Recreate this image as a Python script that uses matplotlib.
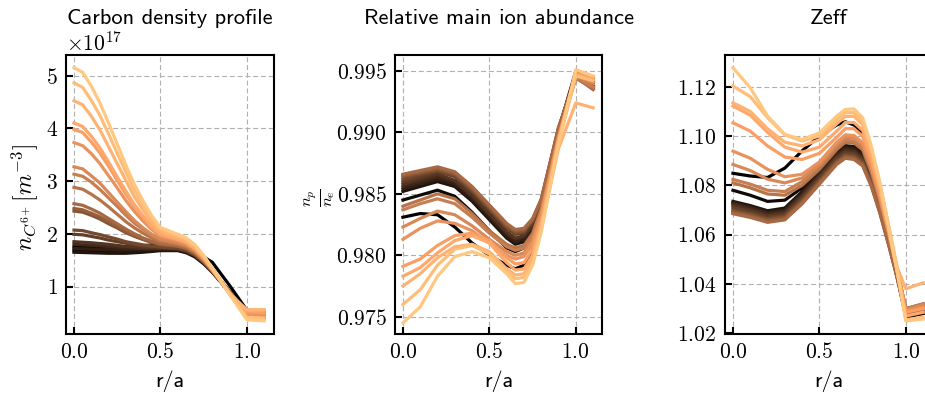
import matplotlib
matplotlib.use('Agg')
import matplotlib.pyplot as plt
import numpy as np

# LaTeX-like look: CM for math / tick labels, CM sans for text
plt.rcParams['font.family'] = ['cmss10', 'DejaVu Sans']
plt.rcParams['mathtext.fontset'] = 'cm'
plt.rcParams['axes.formatter.use_mathtext'] = True
plt.rcParams['axes.unicode_minus'] = False

# radial grids (r/a) where the profiles were read
r_carbon = [0.0, 0.05, 0.1, 0.15, 0.2, 0.25, 0.3, 0.35, 0.4, 0.45, 0.5,
            0.6, 0.65, 0.7, 0.75, 0.8, 0.9, 1.0, 1.1]
r_ion = [0.0, 0.1, 0.2, 0.3, 0.4, 0.5, 0.6, 0.65, 0.7, 0.75, 0.8, 0.9, 1.0, 1.1]
r_zeff = [0.0, 0.1, 0.2, 0.3, 0.4, 0.5, 0.6, 0.65, 0.7, 0.75, 0.8, 0.85,
          0.9, 0.95, 1.0, 1.1]

# carbon density, units of 1e17 m^-3 (one row per time slice, dark -> light)
n_carbon = [
    [1.75, 1.745, 1.74, 1.735, 1.73, 1.735, 1.74, 1.755, 1.77, 1.79, 1.81, 1.76, 1.71, 1.64, 1.56, 1.46, 1.02, 0.55, 0.52],
    [1.68, 1.675, 1.67, 1.665, 1.66, 1.66, 1.66, 1.67, 1.68, 1.69, 1.70, 1.69, 1.65, 1.57, 1.44, 1.28, 0.90, 0.45, 0.42],
    [1.65, 1.645, 1.64, 1.635, 1.63, 1.63, 1.63, 1.64, 1.65, 1.665, 1.68, 1.68, 1.64, 1.56, 1.43, 1.27, 0.89, 0.44, 0.41],
    [1.72, 1.715, 1.71, 1.705, 1.70, 1.695, 1.69, 1.695, 1.70, 1.705, 1.71, 1.70, 1.66, 1.58, 1.45, 1.28, 0.90, 0.46, 0.43],
    [1.80, 1.79, 1.78, 1.77, 1.76, 1.745, 1.73, 1.725, 1.72, 1.72, 1.72, 1.71, 1.67, 1.59, 1.46, 1.29, 0.90, 0.46, 0.43],
    [1.85, 1.84, 1.83, 1.815, 1.80, 1.78, 1.76, 1.75, 1.74, 1.735, 1.73, 1.72, 1.68, 1.59, 1.46, 1.29, 0.90, 0.47, 0.44],
    [1.99, 1.98, 1.95, 1.92, 1.88, 1.85, 1.82, 1.79, 1.77, 1.755, 1.75, 1.72, 1.68, 1.60, 1.46, 1.29, 0.90, 0.46, 0.43],
    [2.07, 2.06, 2.02, 1.985, 1.94, 1.90, 1.85, 1.82, 1.79, 1.77, 1.75, 1.73, 1.69, 1.60, 1.46, 1.29, 0.90, 0.47, 0.44],
    [2.43, 2.41, 2.35, 2.28, 2.19, 2.11, 2.02, 1.95, 1.89, 1.835, 1.80, 1.76, 1.72, 1.63, 1.48, 1.30, 0.90, 0.48, 0.45],
    [2.48, 2.455, 2.39, 2.32, 2.23, 2.14, 2.05, 1.97, 1.90, 1.845, 1.80, 1.77, 1.72, 1.63, 1.48, 1.30, 0.89, 0.49, 0.46],
    [2.57, 2.54, 2.47, 2.39, 2.29, 2.19, 2.09, 2.00, 1.92, 1.86, 1.81, 1.77, 1.73, 1.63, 1.48, 1.30, 0.89, 0.50, 0.47],
    [2.88, 2.845, 2.75, 2.64, 2.51, 2.37, 2.23, 2.11, 2.01, 1.92, 1.85, 1.80, 1.75, 1.65, 1.50, 1.30, 0.89, 0.52, 0.49],
    [3.13, 3.09, 2.98, 2.84, 2.68, 2.52, 2.35, 2.20, 2.08, 1.965, 1.88, 1.82, 1.77, 1.67, 1.51, 1.31, 0.88, 0.52, 0.48],
    [3.27, 3.23, 3.10, 2.96, 2.78, 2.60, 2.42, 2.25, 2.11, 1.99, 1.90, 1.83, 1.78, 1.67, 1.51, 1.31, 0.88, 0.50, 0.46],
    [3.73, 3.67, 3.52, 3.33, 3.10, 2.87, 2.63, 2.42, 2.24, 2.08, 1.95, 1.87, 1.81, 1.70, 1.53, 1.32, 0.88, 0.48, 0.44],
    [3.98, 3.92, 3.74, 3.53, 3.28, 3.01, 2.75, 2.51, 2.31, 2.12, 1.98, 1.89, 1.83, 1.72, 1.54, 1.33, 0.87, 0.52, 0.50],
    [4.10, 4.035, 3.85, 3.63, 3.36, 3.08, 2.81, 2.55, 2.34, 2.14, 2.00, 1.90, 1.84, 1.72, 1.55, 1.33, 0.87, 0.55, 0.55],
    [4.52, 4.445, 4.23, 3.97, 3.65, 3.33, 3.01, 2.70, 2.45, 2.22, 2.05, 1.94, 1.87, 1.75, 1.56, 1.34, 0.86, 0.56, 0.56],
    [4.86, 4.775, 4.53, 4.245, 3.89, 3.53, 3.17, 2.82, 2.54, 2.285, 2.09, 1.97, 1.90, 1.77, 1.58, 1.34, 0.86, 0.42, 0.40],
    [5.15, 5.06, 4.80, 4.48, 4.10, 3.70, 3.30, 2.93, 2.62, 2.34, 2.12, 1.99, 1.92, 1.79, 1.59, 1.35, 0.85, 0.37, 0.35],
]

# main ion fraction n_p / n_e
np_ne = [
    [0.9831, 0.9834, 0.9833, 0.9823, 0.9810, 0.9800, 0.9792, 0.9789, 0.9792, 0.9805, 0.9830, 0.9895, 0.9947, 0.9944],
    [0.9845, 0.9849, 0.9853, 0.9848, 0.9835, 0.9820, 0.9806, 0.9803, 0.9806, 0.9818, 0.9838, 0.9898, 0.9947, 0.9945],
    [0.9852, 0.9856, 0.9860, 0.9856, 0.9844, 0.9829, 0.9814, 0.9809, 0.9811, 0.9821, 0.9840, 0.9900, 0.9947, 0.9941],
    [0.9854, 0.9858, 0.9862, 0.9858, 0.9846, 0.9831, 0.9816, 0.9811, 0.9813, 0.9822, 0.9841, 0.9901, 0.9948, 0.9942],
    [0.9856, 0.9860, 0.9864, 0.9860, 0.9848, 0.9833, 0.9818, 0.9813, 0.9815, 0.9824, 0.9842, 0.9902, 0.9950, 0.9943],
    [0.9858, 0.9862, 0.9866, 0.9861, 0.9849, 0.9834, 0.9819, 0.9814, 0.9816, 0.9825, 0.9843, 0.9902, 0.9948, 0.9940],
    [0.9860, 0.9864, 0.9868, 0.9864, 0.9852, 0.9837, 0.9822, 0.9817, 0.9818, 0.9827, 0.9843, 0.9902, 0.9947, 0.9938],
    [0.9862, 0.9866, 0.9869, 0.9865, 0.9853, 0.9838, 0.9823, 0.9818, 0.9819, 0.9828, 0.9844, 0.9903, 0.9946, 0.9937],
    [0.9864, 0.9867, 0.9870, 0.9866, 0.9854, 0.9839, 0.9824, 0.9819, 0.9820, 0.9829, 0.9845, 0.9903, 0.9946, 0.9936],
    [0.9865, 0.9868, 0.9871, 0.9867, 0.9855, 0.9840, 0.9825, 0.9820, 0.9821, 0.9829, 0.9845, 0.9904, 0.9945, 0.9935],
    [0.9866, 0.9869, 0.9872, 0.9868, 0.9856, 0.9841, 0.9826, 0.9821, 0.9822, 0.9830, 0.9846, 0.9904, 0.9945, 0.9935],
    [0.9840, 0.9845, 0.9850, 0.9846, 0.9834, 0.9820, 0.9809, 0.9806, 0.9808, 0.9818, 0.9838, 0.9898, 0.9944, 0.9936],
    [0.9837, 0.9842, 0.9846, 0.9842, 0.9831, 0.9818, 0.9807, 0.9804, 0.9806, 0.9816, 0.9836, 0.9897, 0.9945, 0.9937],
    [0.9823, 0.9830, 0.9836, 0.9833, 0.9824, 0.9813, 0.9803, 0.9800, 0.9802, 0.9812, 0.9834, 0.9896, 0.9946, 0.9940],
    [0.9813, 0.9822, 0.9828, 0.9826, 0.9820, 0.9810, 0.9800, 0.9797, 0.9799, 0.9810, 0.9833, 0.9896, 0.9948, 0.9945],
    [0.9791, 0.9797, 0.9808, 0.9816, 0.9818, 0.9812, 0.9798, 0.9793, 0.9794, 0.9805, 0.9828, 0.9894, 0.9948, 0.9944],
    [0.9783, 0.9790, 0.9802, 0.9812, 0.9816, 0.9810, 0.9794, 0.9788, 0.9789, 0.9800, 0.9826, 0.9893, 0.9947, 0.9943],
    [0.9775, 0.9785, 0.9798, 0.9807, 0.9809, 0.9803, 0.9789, 0.9784, 0.9785, 0.9796, 0.9823, 0.9887, 0.9924, 0.9920],
    [0.9760, 0.9772, 0.9792, 0.9805, 0.9808, 0.9801, 0.9786, 0.9781, 0.9782, 0.9793, 0.9822, 0.9891, 0.9946, 0.9942],
    [0.9745, 0.9758, 0.9783, 0.9799, 0.9803, 0.9798, 0.9785, 0.9777, 0.9778, 0.9792, 0.9819, 0.9891, 0.9951, 0.9946],
]

# effective charge
zeff = [
    [1.0849, 1.0838, 1.0832, 1.0870, 1.0940, 1.1000, 1.1045, 1.1058, 1.1045, 1.1013, 1.0910, 1.0775, 1.0617, 1.0451, 1.0270, 1.0285],
    [1.0780, 1.0760, 1.0735, 1.0740, 1.0790, 1.0855, 1.0930, 1.0960, 1.0958, 1.0930, 1.0837, 1.0716, 1.0575, 1.0426, 1.0265, 1.0280],
    [1.0735, 1.0718, 1.0697, 1.0708, 1.0775, 1.0855, 1.0935, 1.0960, 1.0955, 1.0927, 1.0838, 1.0719, 1.0582, 1.0437, 1.0280, 1.0300],
    [1.0730, 1.0712, 1.0690, 1.0700, 1.0768, 1.0848, 1.0928, 1.0953, 1.0948, 1.0921, 1.0833, 1.0717, 1.0582, 1.0439, 1.0285, 1.0305],
    [1.0725, 1.0707, 1.0685, 1.0695, 1.0762, 1.0842, 1.0922, 1.0947, 1.0942, 1.0915, 1.0829, 1.0714, 1.0582, 1.0442, 1.0290, 1.0310],
    [1.0718, 1.0700, 1.0678, 1.0688, 1.0755, 1.0835, 1.0915, 1.0940, 1.0935, 1.0909, 1.0825, 1.0713, 1.0584, 1.0448, 1.0300, 1.0318],
    [1.0710, 1.0693, 1.0672, 1.0682, 1.0748, 1.0828, 1.0908, 1.0933, 1.0928, 1.0902, 1.0818, 1.0707, 1.0579, 1.0442, 1.0295, 1.0315],
    [1.0700, 1.0685, 1.0665, 1.0675, 1.0740, 1.0820, 1.0900, 1.0925, 1.0920, 1.0894, 1.0810, 1.0700, 1.0572, 1.0437, 1.0290, 1.0310],
    [1.0695, 1.0680, 1.0660, 1.0670, 1.0735, 1.0815, 1.0895, 1.0920, 1.0915, 1.0889, 1.0805, 1.0695, 1.0567, 1.0432, 1.0285, 1.0305],
    [1.0690, 1.0675, 1.0655, 1.0665, 1.0730, 1.0810, 1.0890, 1.0915, 1.0910, 1.0884, 1.0800, 1.0688, 1.0559, 1.0423, 1.0275, 1.0295],
    [1.0685, 1.0670, 1.0650, 1.0660, 1.0725, 1.0805, 1.0885, 1.0910, 1.0905, 1.0879, 1.0796, 1.0687, 1.0560, 1.0426, 1.0280, 1.0300],
    [1.0810, 1.0790, 1.0765, 1.0760, 1.0800, 1.0865, 1.0945, 1.0975, 1.0972, 1.0944, 1.0853, 1.0734, 1.0596, 1.0449, 1.0290, 1.0310],
    [1.0824, 1.0805, 1.0780, 1.0775, 1.0815, 1.0878, 1.0955, 1.0983, 1.0980, 1.0952, 1.0862, 1.0743, 1.0605, 1.0458, 1.0300, 1.0320],
    [1.0885, 1.0860, 1.0825, 1.0810, 1.0830, 1.0885, 1.0965, 1.0995, 1.0993, 1.0964, 1.0872, 1.0749, 1.0608, 1.0458, 1.0295, 1.0315],
    [1.0939, 1.0910, 1.0865, 1.0835, 1.0845, 1.0895, 1.0975, 1.1005, 1.1002, 1.0973, 1.0878, 1.0754, 1.0609, 1.0456, 1.0290, 1.0305],
    [1.1054, 1.1020, 1.0960, 1.0915, 1.0905, 1.0930, 1.0995, 1.1030, 1.1030, 1.0999, 1.0900, 1.0770, 1.0619, 1.0459, 1.0285, 1.0300],
    [1.1122, 1.1085, 1.1015, 1.0955, 1.0935, 1.0955, 1.1020, 1.1055, 1.1055, 1.1023, 1.0918, 1.0781, 1.0622, 1.0453, 1.0270, 1.0285],
    [1.1135, 1.1100, 1.1030, 1.0975, 1.0960, 1.0985, 1.1050, 1.1080, 1.1080, 1.1047, 1.0941, 1.0801, 1.0638, 1.0466, 1.0380, 1.0405],
    [1.1203, 1.1160, 1.1075, 1.1005, 1.0980, 1.1000, 1.1065, 1.1095, 1.1095, 1.1061, 1.0949, 1.0802, 1.0631, 1.0451, 1.0255, 1.0265],
    [1.1277, 1.1196, 1.1081, 1.1007, 1.0986, 1.1013, 1.1081, 1.1108, 1.1110, 1.1075, 1.0960, 1.0810, 1.0635, 1.0450, 1.0250, 1.0258],
]

titles = ['Carbon density profile', 'Relative main ion abundance', 'Zeff']
ylabels = [r'$n_{C^{6+}} [m^{-3}]$', r'$\frac{n_p}{n_e}$', '']
xticks = [0.0, 0.5, 1.0]
yticks = [[1, 2, 3, 4, 5],
          [0.975, 0.980, 0.985, 0.990, 0.995],
          [1.02, 1.04, 1.06, 1.08, 1.10, 1.12]]

fig = plt.figure(figsize=(9.25, 4.01), dpi=100)
lefts = [0.0714, 0.4270, 0.7838]
axes = [fig.add_axes([l, 0.1671, 0.2243, 0.6958]) for l in lefts]

colors = plt.cm.copper(np.linspace(0, 1, len(n_carbon)))
datasets = [(r_carbon, np.array(n_carbon) * 1e17),
            (r_ion, np.array(np_ne)),
            (r_zeff, np.array(zeff))]

for k, ax in enumerate(axes):
    rr, data = datasets[k]
    for i in range(data.shape[0]):
        ax.plot(rr, data[i], color=colors[i], lw=2.3, solid_joinstyle='round')
    ax.set_title(titles[k], fontsize=16.2, pad=22)
    ax.set_xlabel('r/a', fontsize=16, labelpad=6)
    ax.set_xticks(xticks)
    ax.set_yticks(yticks[k] if k != 0 else [v * 1e17 for v in yticks[k]])
    ax.grid(True, color='#b0b0b0', lw=0.8, linestyle=(0, (4.5, 2.5)))
    ax.tick_params(direction='in', length=5, width=1.5, labelsize=15.5,
                   pad=6, labelfontfamily='cmr10')
    for s in ax.spines.values():
        s.set_linewidth(1.5)
    off = ax.yaxis.get_offset_text()
    off.set_fontsize(15.5)
    off.set_family('cmr10')

axes[0].set_ylabel(ylabels[0], fontsize=17)
axes[0].yaxis.set_label_coords(-0.125, 0.49)
axes[1].set_ylabel(ylabels[1], fontsize=17)
axes[1].yaxis.set_label_coords(-0.28, 0.49)

axes[0].set_xlim(-0.046, 1.154)
axes[0].set_ylim(0.10e17, 5.39e17)
axes[1].set_xlim(-0.046, 1.154)
axes[1].set_ylim(0.9736, 0.9963)
axes[2].set_xlim(-0.046, 1.154)
axes[2].set_ylim(1.0197, 1.1329)

fig.savefig('out.png', dpi=100)
